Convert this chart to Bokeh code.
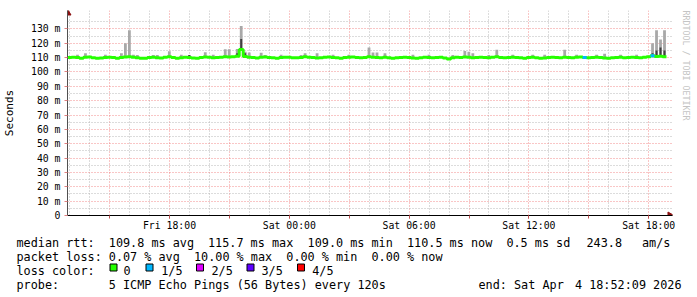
from datetime import datetime, timezone
from bokeh.plotting import figure
from bokeh.layouts import column
from bokeh.models import (Range1d, FixedTicker, CustomJSTickFormatter, DatetimeTickFormatter, Title)
from bokeh.embed import file_html
from bokeh.resources import INLINE
from bokeh.core.properties import value

# ---------------- data ----------------
RANGE_START = "2026-04-03 12:53:30"
STEP_MINUTES = 12

# median rtt per 12-minute step (ms)
median_ms = [
    110.1, 110.3, 110.0, 109.6, 110.2, 110.4, 109.8, 109.5, 109.7, 110.0,
    110.3, 110.1, 109.6, 110.0, 110.4, 110.6, 110.2, 109.9, 109.5, 109.6,
    110.1, 110.3, 109.8, 109.7, 110.2, 110.5, 110.0, 109.6, 109.9, 110.3,
    110.0, 109.7, 109.5, 110.1, 110.4, 110.2, 109.9, 110.0, 110.3, 110.6,
    110.4, 110.5, 110.9, 115.7, 110.8, 110.3, 110.0, 109.7, 110.2, 110.4,
    110.1, 109.8, 109.6, 110.0, 110.3, 110.2, 109.8, 109.9, 110.1, 110.5,
    110.2, 110.0, 109.7, 109.9, 110.3, 110.4, 110.1, 109.8, 109.6, 110.0,
    110.2, 110.4, 110.1, 109.9, 110.0, 110.6, 110.3, 110.1, 109.8, 110.2,
    109.9, 109.6, 109.8, 110.1, 110.3, 110.0, 109.7, 109.5, 109.9, 110.2,
    110.0, 109.8, 110.1, 110.3, 109.7, 109.0, 109.9, 110.2, 110.0, 110.4,
    110.2, 109.9, 110.1, 110.3, 110.0, 109.8, 110.2, 110.5, 110.1, 109.9,
    110.0, 110.3, 110.1, 109.8, 109.6, 110.0, 110.2, 109.9, 109.5, 109.7,
    110.1, 110.3, 110.0, 109.8, 110.2, 110.1, 109.9, 110.2, 110.4, 110.0,
    109.8, 110.1, 110.3, 110.0, 109.7, 109.5, 109.8, 110.0, 110.2, 109.9,
    110.1, 110.3, 110.0, 109.8, 110.2, 110.6, 111.2, 110.8, 110.9, 110.5,
]

# lost pings (out of 5) per step, only non-zero steps
loss_steps = [129, 146]
loss_pings = [1, 1]

# smoke: highest ping per step (only where it rises above the median line)
smoke_steps = [2, 4, 9, 13, 14, 15, 16, 17, 21, 22, 25, 28, 30, 34, 36, 39, 40, 42, 43, 44,
               45, 48, 49, 53, 58, 59, 62, 66, 70, 75, 76, 77, 79, 86, 90, 96, 99, 100, 101,
               105, 107, 111, 116, 119, 124, 127, 132, 134, 138, 142, 146, 147, 148, 149]
smoke_max_ms = [112.0, 113.0, 112.0, 113.0, 120.0, 129.0, 112.0, 111.8, 111.8, 111.8,
                114.4, 112.0, 111.8, 113.7, 112.0, 115.8, 115.8, 116.0, 132.0, 114.0,
                113.5, 113.3, 111.8, 112.0, 111.8, 113.0, 113.0, 112.0, 112.0, 117.0,
                113.6, 113.6, 113.0, 112.0, 112.0, 111.8, 114.6, 114.0, 113.0,
                111.8, 115.4, 112.0, 112.0, 112.0, 115.4, 112.0, 112.0, 112.6, 112.0, 112.0,
                120.0, 129.0, 122.6, 129.0]
# darker inner smoke
dark_steps = [30, 42, 43, 44, 146, 147, 148, 149]
dark_max_ms = [111.8, 113.0, 123.0, 113.0, 113.0, 115.0, 117.0, 115.0]

x_tick_labels = ["2026-04-03 18:00:00", "2026-04-04 00:00:00", "2026-04-04 06:00:00",
                 "2026-04-04 12:00:00", "2026-04-04 18:00:00"]
y_ticks_ms = [0, 10, 20, 30, 40, 50, 60, 70, 80, 90, 100, 110, 120, 130]

loss_labels = ["0", "1/5", "2/5", "3/5", "4/5"]
loss_colors = ["#26ff00", "#00b8ff", "#dd00ff", "#5e00ff", "#ff0000"]

# legend rows: (text pieces)
row1 = ["median rtt:", "109.8 ms avg", "115.7 ms max", "109.0 ms min", "110.5 ms now",
        "0.5 ms sd", "243.8", "am/s"]
row2 = ["packet loss:", "0.07 % avg", "10.00 % max", "0.00 % min", "0.00 % now"]
row3 = ["loss color:"]
row4 = ["probe:", "5 ICMP Echo Pings (56 Bytes) every 120s"]
end_pieces = ["end: Sat Apr", "4 18:52:09 2026"]
watermark = "RRDTOOL / TOBI OETIKER"

# ---------------- layout constants (pixels) ----------------
W, H_MAIN, H_LEG = 697, 234, 63
FRAME_L, FRAME_R, FRAME_T, FRAME_B = 67, 673, 10, 215
PX_PER_HOUR = 20.0
PX_PER_MS = 201.0 / 140.0


def ms(s):
    return datetime.strptime(s, "%Y-%m-%d %H:%M:%S").replace(tzinfo=timezone.utc).timestamp() * 1000.0


HOUR = 3600 * 1000.0
t0 = ms(RANGE_START)
t1 = t0 + (FRAME_R - FRAME_L) / PX_PER_HOUR * HOUR
y_top = (FRAME_B - FRAME_T) / PX_PER_MS
step = STEP_MINUTES * 60 * 1000.0
times = [t0 + i * step for i in range(len(median_ms))]

day0 = ms("2026-04-03 00:00:00")
hours_all = [ms("2026-04-03 13:00:00") + k * HOUR for k in range(30)]
grid3 = [h for h in hours_all if int(round((h - day0) / HOUR)) % 3 == 0]
grid1 = [h for h in hours_all if h not in grid3]

MONO = "DejaVu Sans Mono"

p = figure(width=W, height=H_MAIN, x_range=Range1d(t0, t1), y_range=Range1d(0, y_top),
           x_axis_type="datetime", output_backend="svg", toolbar_location=None,
           min_border_left=FRAME_L, min_border_right=W - FRAME_R,
           min_border_top=FRAME_T, min_border_bottom=H_MAIN - FRAME_B)
p.outline_line_color = None
p.background_fill_color = "white"
p.border_fill_color = "white"

# grids
p.xgrid.ticker = FixedTicker(ticks=grid3, minor_ticks=grid1)
p.xgrid.grid_line_color = "#f07070"
p.xgrid.grid_line_alpha = 0.8
p.xgrid.grid_line_dash = "1 2"
p.xgrid.minor_grid_line_color = "#b8b8b8"
p.xgrid.minor_grid_line_dash = "1 2"
p.ygrid.ticker = FixedTicker(ticks=y_ticks_ms[1:], minor_ticks=[t + 5 for t in y_ticks_ms])
p.ygrid.grid_line_color = "#f07070"
p.ygrid.grid_line_alpha = 0.8
p.ygrid.grid_line_dash = "1 2"
p.ygrid.minor_grid_line_color = "#b8b8b8"
p.ygrid.minor_grid_line_dash = "1 2"

# x axis
xa = p.xaxis[0]
xa.ticker = FixedTicker(ticks=[ms(s) for s in x_tick_labels], minor_ticks=grid3)
fmt = "%a %H:%M"
xa.formatter = DatetimeTickFormatter(microseconds=fmt, milliseconds=fmt, seconds=fmt, minsec=fmt,
                                     minutes=fmt, hourmin=fmt, hours=fmt, days=fmt, months=fmt, years=fmt)
xa.axis_line_color = "black"
xa.major_tick_out = 3
xa.major_tick_in = 0
xa.minor_tick_out = 3
xa.minor_tick_in = 0
xa.major_tick_line_color = "#c05050"
xa.minor_tick_line_color = "#c05050"
xa.major_label_standoff = 1
xa.major_label_text_font = MONO
xa.major_label_text_font_size = "9.8px"
xa.major_label_text_color = "black"

# y axis
ya = p.yaxis[0]
ya.ticker = FixedTicker(ticks=y_ticks_ms, minor_ticks=[])
ya.formatter = CustomJSTickFormatter(code="return tick == 0 ? '0' : tick.toFixed(0) + ' m';")
ya.axis_line_color = "#505050"
ya.major_tick_out = 3
ya.major_tick_in = 0
ya.major_tick_line_color = "#e08080"
ya.minor_tick_out = 0
ya.minor_tick_in = 0
ya.major_label_standoff = 4
ya.major_label_text_font = MONO
ya.major_label_text_font_size = "9.8px"
ya.major_label_text_color = "black"
ya.axis_label = "Seconds"
ya.axis_label_text_font = MONO
ya.axis_label_text_font_size = "11px"
ya.axis_label_text_font_style = "normal"
ya.axis_label_text_color = "black"
ya.axis_label_standoff = 12

# smoke
p.vbar(x=[times[i] + step / 2 for i in smoke_steps], width=step * 0.7,
       bottom=[median_ms[i] for i in smoke_steps], top=smoke_max_ms,
       fill_color="#a8a8a8", line_color=None)
p.vbar(x=[times[i] + step / 2 for i in dark_steps], width=step * 0.5,
       bottom=[median_ms[i] for i in dark_steps], top=dark_max_ms,
       fill_color="#404040", line_color=None)

# median line (green = no loss)
p.step(x=times + [times[-1] + step], y=median_ms + [median_ms[-1]], mode="after",
       line_color=loss_colors[0], line_width=3)
p.segment(x0=[times[i] for i in loss_steps], x1=[times[i] + step for i in loss_steps],
          y0=[median_ms[i] for i in loss_steps], y1=[median_ms[i] for i in loss_steps],
          line_color=[loss_colors[n] for n in loss_pings], line_width=3)

# axis arrow heads (inside the frame corners)
p.scatter(x=[t0], y=[y_top - 2.5 / PX_PER_MS], marker="triangle", size=7,
          fill_color="#8b1010", line_color="#8b1010")
p.scatter(x=[t1 - 2.5 / PX_PER_HOUR * HOUR], y=[0], marker="triangle", angle=-1.5708, size=7,
          fill_color="#8b1010", line_color="#8b1010")

# watermark on the right
p.add_layout(Title(text=watermark, align="left", vertical_align="top", text_font=MONO,
                   text_font_size="8.3px", text_font_style="normal", text_color="#c4c4c4",
                   standoff=13), "right")

# ---------------- legend area ----------------
lg = figure(width=W, height=H_LEG, x_range=Range1d(0, W), y_range=Range1d(H_LEG, 0),
            output_backend="svg", toolbar_location=None, x_axis_type=None, y_axis_type=None,
            min_border_left=0, min_border_right=0, min_border_top=0, min_border_bottom=0)
lg.outline_line_color = None
lg.background_fill_color = "white"
lg.border_fill_color = "white"
for fig in (p, lg):
    try:
        fig.frame_align = False
    except Exception:
        pass

row_y = [b - H_MAIN for b in (242.3, 256.2, 270.1, 284.0)]
x_start = 16
row1_x = [x_start, 108.3, 207.5, 307.1, 406.5, 505.9, 586.0, 641.5]
row2_x = [x_start, 108.3, 193.5, 285.8, 371.0]
row4_x = [x_start, 108.3]

txt = dict(text_font=value(MONO), text_font_size="11.8px", text_baseline="alphabetic",
           text_color="black")
lg.text(x=row1_x, y=[row_y[0]] * len(row1), text=row1, text_align="left", **txt)
lg.text(x=row2_x, y=[row_y[1]] * len(row2), text=row2, text_align="left", **txt)
lg.text(x=[x_start], y=[row_y[2]], text=row3, text_align="left", **txt)
lg.text(x=row4_x, y=[row_y[3]] * len(row4), text=row4, text_align="left", **txt)
lg.text(x=[478], y=[row_y[3]], text=[end_pieces[0]], text_align="left", **txt)
lg.text(x=[681], y=[row_y[3]], text=[end_pieces[1]], text_align="right", **txt)

sq_x = [113, 149, 199.5, 250, 300.5]
lbl_x = [123, 160.7, 211, 261, 311.7]
lg.rect(x=sq_x, y=[267 - H_MAIN] * 5, width=7, height=7, fill_color=loss_colors,
        line_color="black", line_width=1)
lg.text(x=lbl_x, y=[row_y[2]] * 5, text=loss_labels, text_align="left", **txt)

layout = column(p, lg, spacing=0)
open("out.html", "w").write(file_html(layout, INLINE))
